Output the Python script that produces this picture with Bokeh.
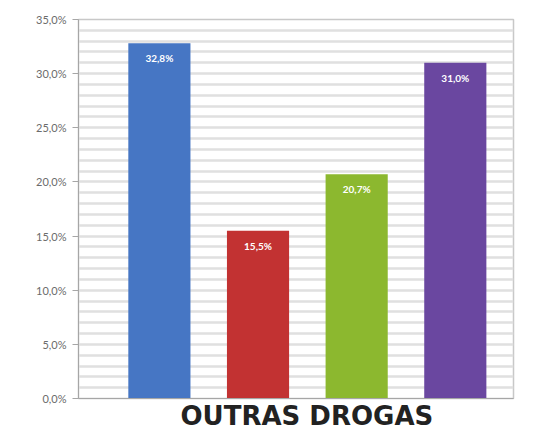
from bokeh.plotting import figure
from bokeh.models import FixedTicker, Range1d, ColumnDataSource, Title
from bokeh.core.properties import value
from bokeh.embed import file_html
from bokeh.resources import INLINE

# data
category = "OUTRAS DROGAS"
positions = [1, 2, 3, 4]
values = [32.8, 15.5, 20.7, 31.0]
value_labels = ["32,8%", "15,5%", "20,7%", "31,0%"]
y_ticks = [0, 5, 10, 15, 20, 25, 30, 35]
y_tick_labels = ["0,0%", "5,0%", "10,0%", "15,0%", "20,0%", "25,0%", "30,0%", "35,0%"]

colors = ["#4676c4", "#c23232", "#8cb82f", "#6a47a0"]

src = ColumnDataSource(dict(x=positions, top=values, lab=value_labels, color=colors))

p = figure(width=544, height=430, output_backend="svg", toolbar_location=None,
           x_range=Range1d(0.18, 4.59), y_range=Range1d(0, 35),
           min_border_left=78, min_border_right=31, min_border_top=19, min_border_bottom=0)

p.background_fill_color = "white"
p.border_fill_color = "white"
p.outline_line_color = "#c8c8c8"
p.outline_line_width = 1.5

p.ygrid.ticker = FixedTicker(ticks=list(range(0, 36)))
p.ygrid.grid_line_color = "#e0e0e0"
p.ygrid.grid_line_width = 2.5
p.xgrid.grid_line_color = None

p.vbar(x="x", top="top", width=0.63, bottom=0, color="color", line_color=None, source=src)
p.text(x="x", y="top", text="lab", source=src, text_color="white",
       text_font=value("Lato"), text_font_style="bold", text_font_size="10px",
       text_align="center", text_baseline="top", y_offset=9)

p.yaxis.ticker = FixedTicker(ticks=y_ticks)
p.yaxis.major_label_overrides = {t: l for t, l in zip(y_ticks, y_tick_labels)}
p.yaxis.major_label_text_font = "Lato"
p.yaxis.major_label_text_font_size = "11px"
p.yaxis.major_label_text_color = "#6b6b6b"
p.yaxis.axis_line_color = "#a6a6a6"
p.yaxis.major_tick_line_color = "#a6a6a6"
p.yaxis.major_tick_out = 6
p.yaxis.major_tick_in = 0
p.yaxis.minor_tick_line_color = None
p.yaxis.major_label_standoff = 6

p.xaxis.ticker = FixedTicker(ticks=[])
p.xaxis.axis_line_color = "#a6a6a6"
p.xaxis.major_tick_line_color = None
p.xaxis.minor_tick_line_color = None
p.xaxis.major_tick_out = 0
p.xaxis.major_tick_in = 0
p.xaxis.major_label_standoff = 0
p.xaxis.major_label_text_font_size = "0px"

cat_title = Title(text=category, align="left", offset=102, standoff=0,
                  text_font="DejaVu Sans", text_font_style="bold", text_font_size="26px",
                  text_color="#222222")
p.add_layout(cat_title, "below")

open("out.html", "w").write(file_html(p, INLINE))
